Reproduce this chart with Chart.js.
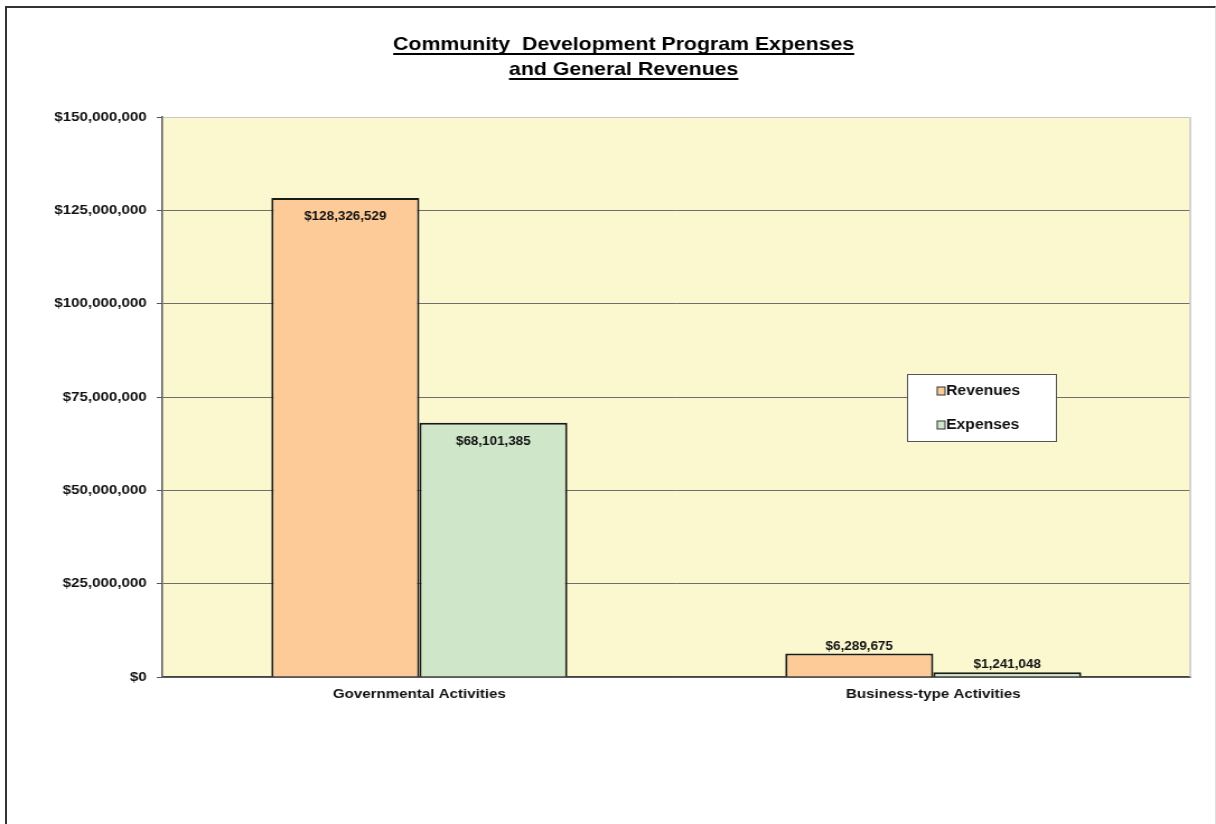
<!DOCTYPE html>
<html>
<head>
<meta charset="utf-8">
<script src="https://cdn.jsdelivr.net/npm/chart.js@4"></script>
<style>
  body { margin: 0; background: #fff; overflow: hidden; }
  #frame {
    position: absolute; left: 5px; top: 6px; width: 1208px; height: 840px;
    border-left: 2px solid #333; border-top: 2px solid #333; border-right: 1px solid #ddd;
  }
  #chart { position: absolute; left: 0; top: 0; }
</style>
</head>
<body>
<div id="frame"></div>
<!-- the source picture is a bit stretched sideways, so the canvas is drawn narrower and widened by css -->
<canvas id="chart" width="1086" height="824" style="width:1216px;height:824px"></canvas>
<script>
const titleLines = ["Community  Development Program Expenses", "and General Revenues"];
const categories = ["Governmental Activities", "Business-type Activities"];
const seriesNames = ["Revenues", "Expenses"];
const revenues = [128326529, 6289675];
const expenses = [68101385, 1241048];
const yMin = 0;
const yMax = 150000000;
const yStep = 25000000;

const seriesColors = ["#FDCB98", "#CFE6C8"];
const FONT = '"Liberation Sans", Arial, sans-serif';

const money = (v) => "$" + Math.round(v).toLocaleString("en-US");

const plotBackground = {
  id: "plotBackground",
  beforeDraw(chart) {
    const { ctx, chartArea: a } = chart;
    ctx.save();
    ctx.fillStyle = "#FBF8D0";
    ctx.fillRect(a.left, a.top, a.right - a.left, a.bottom - a.top);
    ctx.restore();
  },
  afterDraw(chart) {
    const { ctx, chartArea: a } = chart;
    ctx.save();
    ctx.strokeStyle = "#c8c8c8";
    ctx.lineWidth = 1.5;
    ctx.beginPath();
    ctx.moveTo(a.right, a.top);
    ctx.lineTo(a.right, a.bottom);
    ctx.stroke();
    ctx.restore();
  },
};

const barLabels = {
  id: "barLabels",
  afterDatasetsDraw(chart) {
    const ctx = chart.ctx;
    ctx.save();
    ctx.font = "bold 12px " + FONT;
    ctx.fillStyle = "#111";
    ctx.textAlign = "center";
    ctx.textBaseline = "alphabetic";
    chart.data.datasets.forEach((ds, i) => {
      chart.getDatasetMeta(i).data.forEach((bar, j) => {
        const h = bar.base - bar.y;
        // tall bars get the label inside, short ones above
        const y = h > 30 ? bar.y + 22 : bar.y - 4;
        ctx.fillText(money(ds.data[j]), bar.x, y);
      });
    });
    ctx.restore();
  },
};

const titleAndLegend = {
  id: "titleAndLegend",
  afterDraw(chart) {
    const ctx = chart.ctx;
    ctx.save();

    // underlined two line title
    ctx.font = "bold 19px " + FONT;
    ctx.fillStyle = "#000";
    ctx.textAlign = "center";
    ctx.textBaseline = "alphabetic";
    const cx = 557;
    const baselines = [50, 75];
    titleLines.forEach((t, i) => {
      ctx.fillText(t, cx, baselines[i]);
      const w = ctx.measureText(t).width;
      ctx.fillRect(cx - w / 2, baselines[i] + 3, w, 2);
    });

    // legend box sitting in the plot
    const bx = 810, by = 374, bw = 133, bh = 67;
    ctx.fillStyle = "#fff";
    ctx.fillRect(bx, by, bw, bh);
    ctx.strokeStyle = "#555";
    ctx.lineWidth = 1;
    ctx.strokeRect(bx + 0.5, by + 0.5, bw, bh);

    ctx.font = "bold 14px " + FONT;
    ctx.textAlign = "left";
    ctx.textBaseline = "middle";
    const rows = [391, 425];
    chart.data.datasets.forEach((ds, i) => {
      ctx.fillStyle = ds.backgroundColor;
      ctx.fillRect(837, rows[i] - 4, 7, 8);
      ctx.strokeStyle = "#333";
      ctx.strokeRect(837, rows[i] - 4, 7, 8);
      ctx.fillStyle = "#111";
      ctx.fillText(ds.label, 845, rows[i]);
    });
    ctx.restore();
  },
};

new Chart("chart", {
  type: "bar",
  data: {
    labels: categories,
    datasets: [
      {
        label: seriesNames[0],
        data: revenues,
        backgroundColor: seriesColors[0],
        borderColor: "#1a1a1a",
        borderWidth: 2,
        categoryPercentage: 0.576,
        barPercentage: 1.0,
      },
      {
        label: seriesNames[1],
        data: expenses,
        backgroundColor: seriesColors[1],
        borderColor: "#1a1a1a",
        borderWidth: 2,
        categoryPercentage: 0.576,
        barPercentage: 1.0,
      },
    ],
  },
  options: {
    responsive: false,
    animation: false,
    layout: { padding: { top: 117, right: 23, bottom: 107, left: 0 } },
    plugins: {
      legend: { display: false },
      tooltip: { enabled: false },
    },
    scales: {
      x: {
        grid: { drawOnChartArea: false, drawTicks: false },
        border: { color: "#444", width: 1.5 },
        ticks: { font: { family: FONT, size: 13.5, weight: "bold" }, color: "#111", padding: 9 },
        afterFit: (s) => { s.height = 40; },
      },
      y: {
        min: yMin,
        max: yMax,
        grid: {
          color: (c) => (c.tick && c.tick.value === yMax ? "#c8c8c8" : "#6e6e6e"),
          tickColor: "#555",
          tickLength: 5,
        },
        border: { color: "#555", width: 1.5 },
        ticks: {
          stepSize: yStep,
          padding: 9,
          color: "#111",
          font: { family: FONT, size: 13.5, weight: "bold" },
          callback: (v) => money(v),
        },
        afterFit: (s) => { s.width = 145; },
      },
    },
  },
  plugins: [plotBackground, barLabels, titleAndLegend],
});
</script>
</body>
</html>
